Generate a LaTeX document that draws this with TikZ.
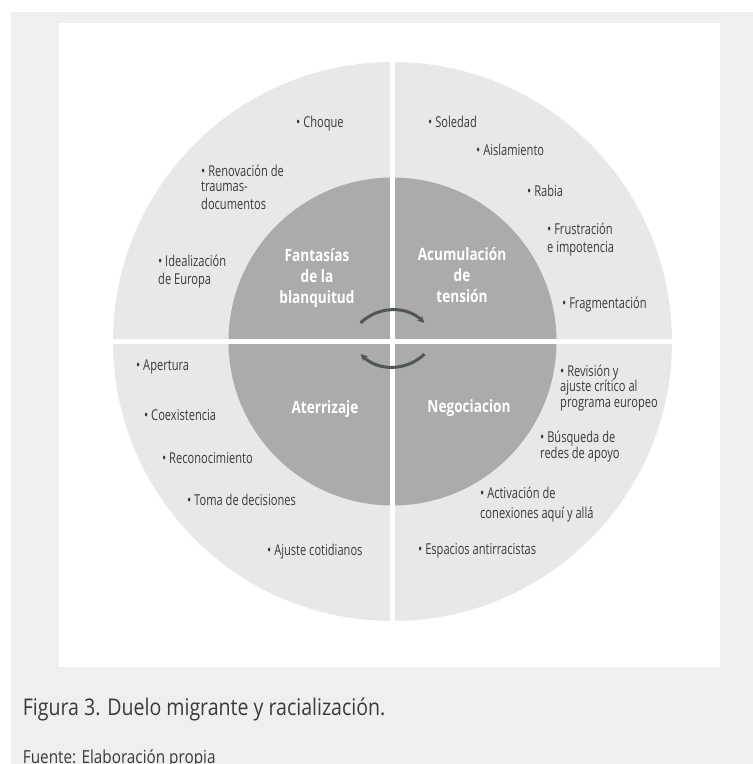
\documentclass[tikz,border=0pt]{standalone}
\usepackage{fontspec}
\setmainfont{Open Sans}[FakeStretch=0.74]
\newfontfamily\stagefont{Open Sans}[FakeStretch=0.8]
\newfontfamily\captionfont{Open Sans}[FakeStretch=0.85]
\usetikzlibrary{arrows.meta}
\definecolor{pagegray}{RGB}{239,239,238}
\definecolor{ringgray}{RGB}{232,233,231}
\definecolor{coregray}{RGB}{170,171,170}
\definecolor{inkgray}{RGB}{58,58,58}
\definecolor{arcgray}{RGB}{80,86,86}

\begin{document}
\begin{tikzpicture}[
    x=1pt, y=-1pt,
    every node/.style={inner sep=0pt, text=inkgray},
    item/.style={anchor=base west, align=left, font=\fontsize{15}{15.5}\selectfont},
    stage/.style={anchor=base, align=center, text=white, font=\stagefont\fontsize{17}{21}\selectfont\bfseries},
    cycle/.style={draw=arcgray, line width=3pt, -{Stealth[length=7pt,width=7pt]}},
    divider/.style={white, line width=4.5pt}
  ]
  \useasboundingbox (0,0) rectangle (753,764);

  % Background
  \fill[pagegray] (11,12.3) rectangle (753,764);
  \fill[white] (59,22.7) rectangle (720,667);

  % Circles
  \coordinate (hub) at (392.5,341.5);
  \fill[ringgray] (hub) circle[radius=279.5];
  \fill[coregray] (hub) circle[radius=164];
  \draw[divider] ([yshift=290pt]hub) -- ([yshift=-290pt]hub);
  \draw[divider] ([xshift=-290pt]hub) -- ([xshift=290pt]hub);

  % Stages (base = last line)
  \node (fantasias) [stage] at (317,303) {Fantasías\\de la\\blanquitud};
  \node (acumulacion) [stage] at (462,302) {Acumulación\\de\\tensión};
  \node (aterrizaje) [stage] at (325,413) {Aterrizaje};
  \node (negociacion) [stage] at (469,412) {Negociacion};

  % Arrows
  \coordinate (topc) at (392.5,356);
  \coordinate (botc) at (392.5,321);
  \draw[cycle] ([shift={(226:46)}]topc) arc[start angle=226, end angle=314, radius=46];
  \draw[cycle] ([shift={(46:46)}]botc) arc[start angle=46, end angle=134, radius=46];

  % Items, top left
  \node (choque) [item] at (296,127.7) {• Choque};
  \node (renovacion) [item] at (201,209) {• Renovación de\\traumas-\\[2pt]documentos};
  \node (idealizacion) [item] at (158,284) {• Idealización\\[2.5pt]de Europa};

  % Items, top right
  \node (soledad) [item] at (428,127) {• Soledad};
  \node (aislamiento) [item] at (476,155) {• Aislamiento};
  \node (rabia) [item] at (527,196) {• Rabia};
  \node (frustracion) [item] at (547,252) {• Frustración\\[2.5pt]e impotencia};
  \node (fragmentacion) [item] at (562,308) {• Fragmentación};

  % Items, bottom left
  \node (apertura) [item] at (136,370) {• Apertura};
  \node (coexistencia) [item] at (144,420) {• Coexistencia};
  \node (reconocimiento) [item] at (162,463) {• Reconocimiento};
  \node (toma) [item] at (187,505) {• Toma de decisiones};
  \node (ajuste) [item] at (267,555) {• Ajuste cotidianos};

  % Items, bottom right
  \node (revision) [item] at (560,407) {• Revisión y\\ajuste crítico al\\programa europeo};
  \node (busqueda) [item] at (540,458) {• Búsqueda de\\redes de apoyo};
  \node (activacion) [item] at (480,518) {• Activación de\\[4.5pt]conexiones aquí y allá};
  \node (espacios) [item] at (418,554) {• Espacios antirracistas};

  % Caption
  \node (caption) [anchor=base west, font=\captionfont\fontsize{23}{24}\selectfont] at (22.7,715) {Figura 3. Duelo migrante y racialización.};
  \node (source) [anchor=base west, font=\captionfont\fontsize{18}{19}\selectfont] at (22.7,763) {Fuente: Elaboración propia};
\end{tikzpicture}
\end{document}
